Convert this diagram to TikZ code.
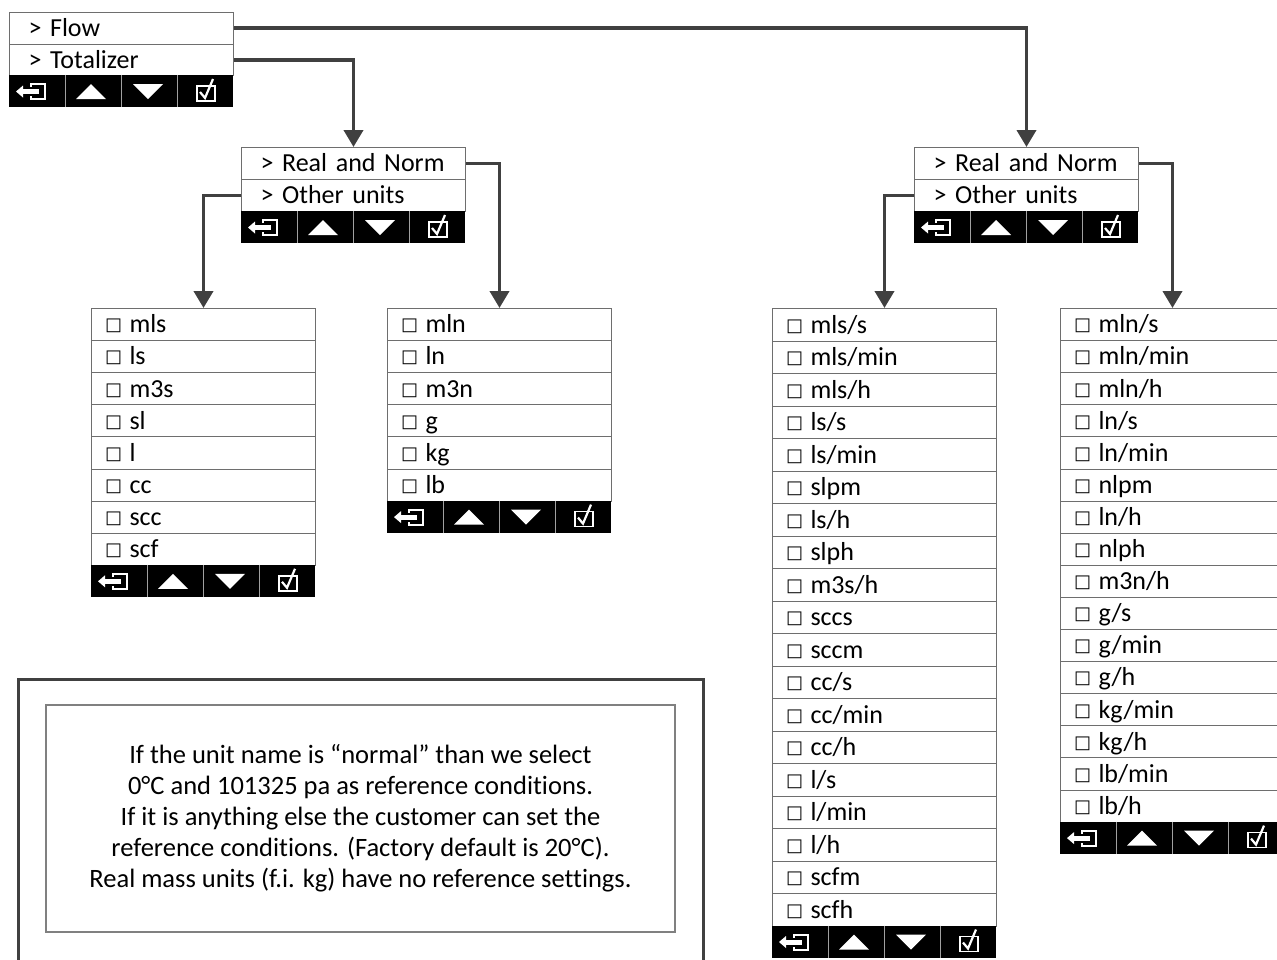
\documentclass[tikz,border=0pt]{standalone}
\usepackage{fontspec}
\setmainfont{Carlito}[Ligatures=NoCommon]
\newfontfamily\symf{DejaVu Sans}
\usetikzlibrary{arrows.meta}
\definecolor{boxgray}{HTML}{6E6E6E}
\definecolor{conncol}{HTML}{404040}
\definecolor{sepgray}{HTML}{A0A0A0}
\definecolor{innergray}{HTML}{808080}
\newcommand\bx{\hspace*{1.5pt}\raisebox{2pt}{\symf\fontsize{18}{18}\selectfont □}\hspace{7.5pt}}
\tikzset{
  rowbase/.style={draw=boxgray, line width=1pt, anchor=north west, minimum width=224pt,
    inner xsep=12pt, text width=200pt,
    inner ysep=0pt, align=left, text height=16.5pt, text depth=0pt,
    font=\fontsize{26}{31}\selectfont},
  menurow/.style={rowbase},
  listrow/.style={rowbase},
  conn/.style={draw=conncol, line width=3.8pt, -{Triangle[width=19pt,length=17pt]}},
  btnbar/.pic={
    \fill[black] (0,0) rectangle (224,32);
    \foreach \s in {56,112,168} \draw[sepgray, line width=0.8pt] (\s,0) -- (\s,32);
    \draw[white, line width=2pt] (22,12) -- (22,9) -- (36,9) -- (36,24) -- (22,24) -- (22,21);
    \fill[white] (7,16.5) -- (14,10.5) -- (14,22.5) -- cycle;
    \fill[white] (13,14) rectangle (30,19);
    \fill[white] (67,24) -- (97,24) -- (82,9) -- cycle;
    \fill[white] (124,9) -- (154,9) -- (139,24) -- cycle;
    \draw[white, line width=1.6pt] (188,11) rectangle (206,26);
    \draw[white, line width=2.2pt] (191,17) -- (196,23) -- (204,4);
  }
}
\newcommand\mi{\hspace*{7pt}}
\begin{document}
\begin{tikzpicture}[x=1pt,y=-1pt]
\clip (0,0) rectangle (1277,959);
\fill[white] (0,0) rectangle (1277,959);

% top menu
\node[menurow, minimum height=31.5pt] (TM1) at (9,12) {\mi> Flow};
\node[menurow, minimum height=31.5pt] (TM2) at (9,43.5) {\mi> Totalizer};
\pic at (9,75) {btnbar};

% left menu
\node[menurow, minimum height=32pt] (LM1) at (241,147) {\mi> Real and Norm};
\node[menurow, minimum height=32pt] (LM2) at (241,179) {\mi> Other units};
\pic at (241,211) {btnbar};

% right menu
\node[menurow, minimum height=32pt] (RM1) at (914,147) {\mi> Real and Norm};
\node[menurow, minimum height=32pt] (RM2) at (914,179) {\mi> Other units};
\pic at (914,211) {btnbar};

% list A
\foreach \t [count=\i] in {mls,ls,m3s,sl,l,cc,scc,scf}
  \node[listrow, minimum height=32.1pt] (A\i) at (91,{308+(\i-1)*32.1}) {\bx\t};
\pic at (91,564.8) {btnbar};

% list B
\foreach \t [count=\i] in {mln,ln,m3n,g,kg,lb}
  \node[listrow, minimum height=32.1pt] (B\i) at (387,{308+(\i-1)*32.1}) {\bx\t};
\pic at (387,500.6) {btnbar};

% list C
\foreach \t [count=\i] in {mls/s,mls/min,mls/h,ls/s,ls/min,slpm,ls/h,slph,m3s/h,sccs,sccm,cc/s,cc/min,cc/h,l/s,l/min,l/h,scfm,scfh}
  \node[listrow, minimum height=32.5pt] (C\i) at (772,{308+(\i-1)*32.5}) {\bx\t};
\pic at (772,925.5) {btnbar};

% list D
\foreach \t [count=\i] in {mln/s,mln/min,mln/h,ln/s,ln/min,nlpm,ln/h,nlph,m3n/h,g/s,g/min,g/h,kg/min,kg/h,lb/min,lb/h}
  \node[listrow, minimum height=32.1pt] (D\i) at (1060,{308+(\i-1)*32.1}) {\bx\t};
\pic at (1060,821.6) {btnbar};

% connectors
\draw[conn] (TM1.east) -| (RM1.north);
\draw[conn] (TM2.east) -| (LM1.north);
\draw[conn] (LM2.west) -| (A1.north);
\draw[conn] (LM1.east) -| (B1.north);
\draw[conn] (RM2.west) -| (C1.north);
\draw[conn] (RM1.east) -| (D1.north);

% note
\node[draw=conncol, line width=2.5pt, anchor=north west, minimum width=685pt, minimum height=320pt, inner sep=0pt] (noteouter) at (17,678) {};
\node[draw=innergray, line width=1.2pt, minimum width=629pt, minimum height=227pt, align=center,
  font=\fontsize{26.5}{31}\selectfont] (note) at (360.5,818.5)
  {If the unit name is “normal” than we select\\
   0°C and 101325 pa as reference conditions.\\
   If it is anything else the customer can set the\\
   reference conditions. (Factory default is 20°C).\\
   Real mass units (f.i. kg) have no reference settings.};
\end{tikzpicture}
\end{document}
